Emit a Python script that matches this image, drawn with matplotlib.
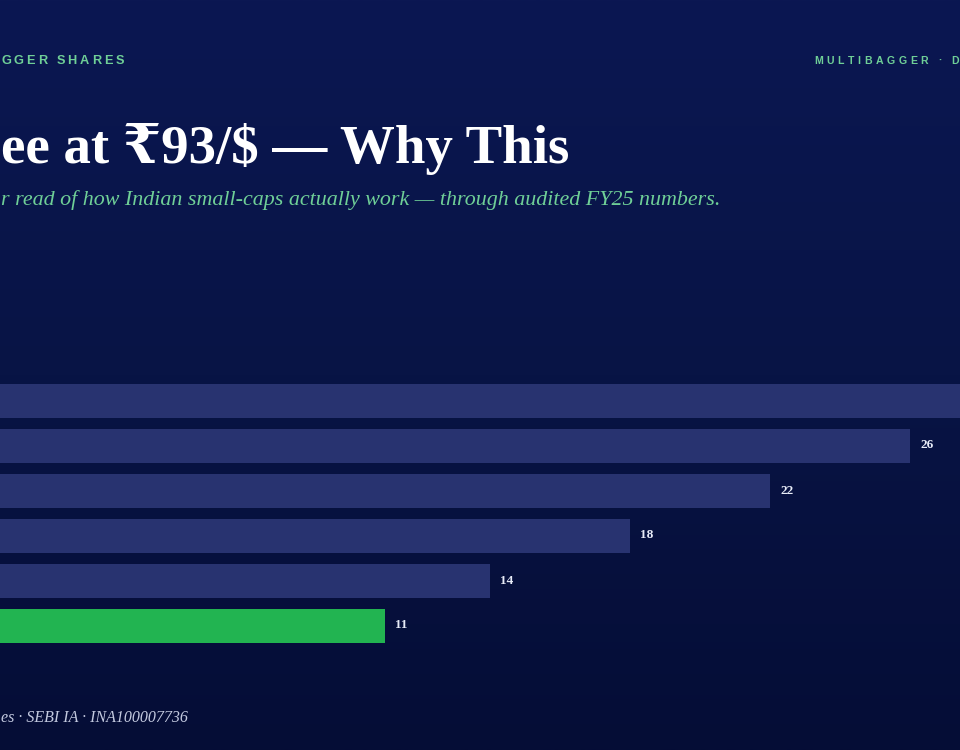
import matplotlib
matplotlib.use("Agg")
import matplotlib.pyplot as plt
import numpy as np
from matplotlib.colors import LinearSegmentedColormap

# ---- data ----
values = [30, 26, 22, 18, 14, 11]
highlight = [False, False, False, False, False, True]
value_labels = ["30", "26", "22", "18", "14", "11"]

header_left = "GGER SHARES"
header_right = "MULTIBAGGER · D"
title = "ee at ₹93/$ — Why This"
subtitle = "r read of how Indian small-caps actually work — through audited FY25 numbers."
footer = "es · SEBI IA · INA100007736"

BAR = "#283370"
GREEN = "#22b451"
ACCENT = "#6fcf97"

W, H = 960, 750
fig = plt.figure(figsize=(9.6, 7.5), dpi=100)

# background gradient
bg = fig.add_axes([0, 0, 1, 1], zorder=0)
cmap = LinearSegmentedColormap.from_list("bg", ["#0b1752", "#081445", "#050d36"])
bg.imshow(np.linspace(0, 1, 256).reshape(-1, 1), aspect="auto", cmap=cmap,
          extent=[0, 1, 0, 1], origin="upper")
bg.set_axis_off()

def px(x, y):
    return x / W, 1 - y / H

serif = ["Liberation Serif", "DejaVu Serif"]
sans = ["Liberation Sans", "DejaVu Sans"]

# spaced header text, character by character
def spaced(text, x_end=None, x_start=None, y=61, spacing=3.2, size=9.2):
    r = fig.canvas.get_renderer()
    widths = []
    for ch in text:
        t = fig.text(0, 0, ch, fontsize=size, fontweight="bold", family=sans)
        bb = t.get_window_extent(renderer=r)
        widths.append(bb.width if ch != " " else size * 0.35)
        t.remove()
    total = sum(widths) + spacing * (len(text) - 1)
    x = x_start if x_start is not None else x_end - total
    for ch, w in zip(text, widths):
        fx, fy = px(x, y)
        fig.text(fx, fy, ch, fontsize=size, fontweight="bold", family=sans,
                 color=ACCENT, va="center", ha="left", zorder=5)
        x += w + spacing

spaced(header_left, x_start=1, spacing=2.9, size=9.2)
spaced(header_right, x_end=959, spacing=3.6, size=7.6)

fx, fy = px(1, 163)
fig.text(fx, fy, title, fontsize=39.5, fontweight="bold", family=serif,
         color="white", va="baseline", ha="left", zorder=5)
fx, fy = px(1, 205)
fig.text(fx, fy, subtitle, fontsize=15.8, style="italic", family=serif,
         color=ACCENT, va="baseline", ha="left", zorder=5)
fx, fy = px(1, 722)
fig.text(fx, fy, footer, fontsize=11.5, style="italic", family=serif,
         color="#c3c9df", va="baseline", ha="left", zorder=5)

# bar chart axes: x=0 at left edge, 35 px per unit
ax = fig.add_axes([0, 1 - 648 / H, 1, 270 / H], zorder=2)
ax.patch.set_alpha(0)
ypos = np.arange(len(values))
colors = [GREEN if h else BAR for h in highlight]
ax.barh(ypos, values, height=34 / 45, color=colors)
xmax = W / 35
ax.set_xlim(0, xmax)
ax.set_ylim(len(values) - 0.5, -0.5)
for y, v, lab in zip(ypos, values, value_labels):
    if v > xmax - 1:
        continue  # label falls outside the visible frame
    ax.annotate(lab, (v, y), xytext=(7.5, 0), textcoords="offset points",
                va="center", ha="left", fontsize=9.5, fontweight="bold",
                family=serif, color="#e8ecf8")
ax.set_axis_off()

fig.savefig("out.png", dpi=100)
